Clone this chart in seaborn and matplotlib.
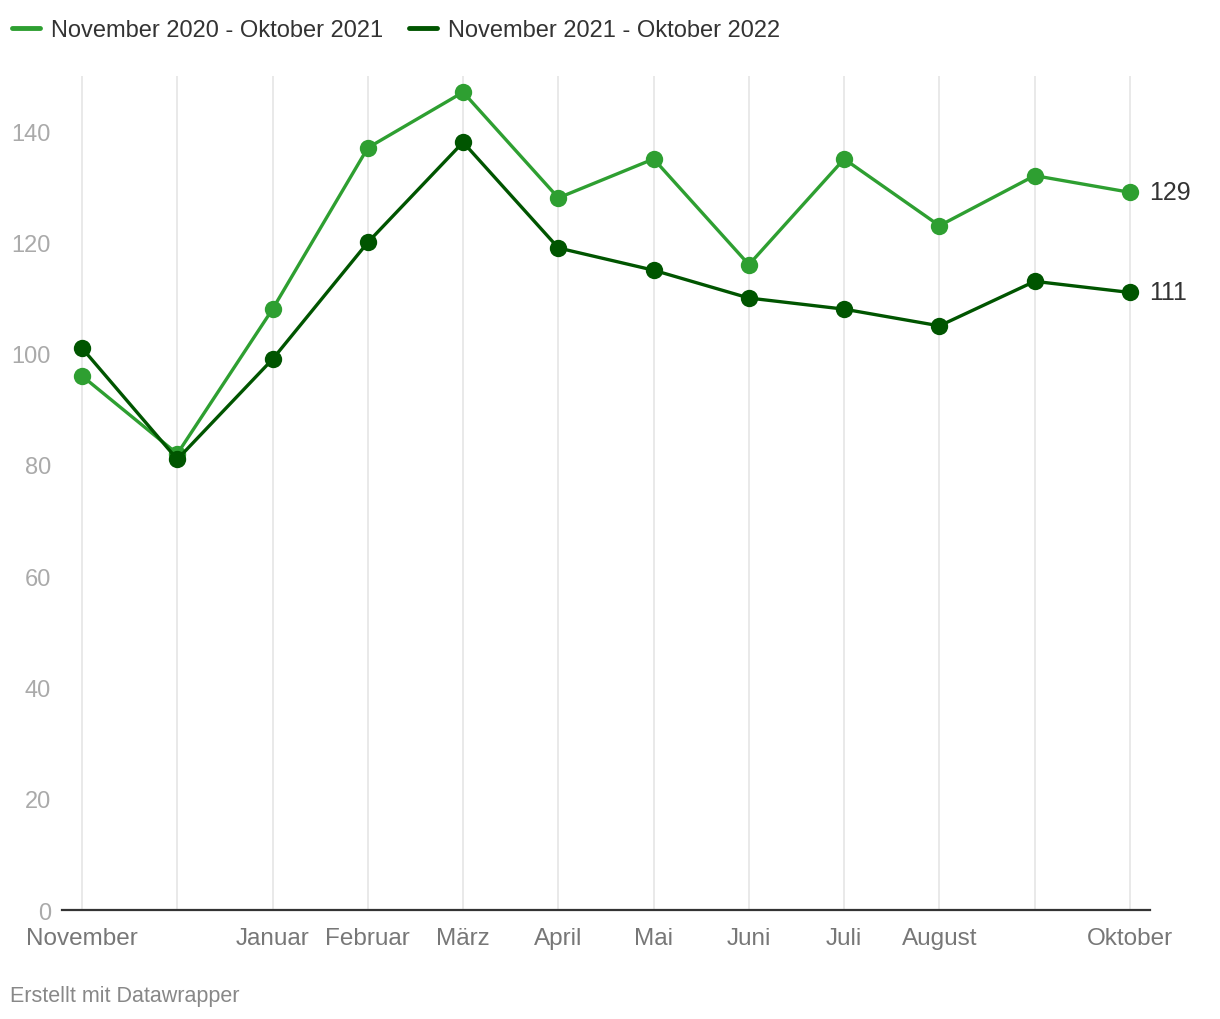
import matplotlib
matplotlib.use("Agg")
import matplotlib.pyplot as plt
import seaborn as sns
import pandas as pd
from matplotlib.lines import Line2D

months = ["November", "Dezember", "Januar", "Februar", "März", "April", "Mai",
          "Juni", "Juli", "August", "September", "Oktober"]
tick_labels = ["November", "", "Januar", "Februar", "März", "April", "Mai",
               "Juni", "Juli", "August", "", "Oktober"]
series_names = ["November 2020 - Oktober 2021", "November 2021 - Oktober 2022"]
values_2021 = [96, 82, 108, 137, 147, 128, 135, 116, 135, 123, 132, 129]
values_2022 = [101, 81, 99, 120, 138, 119, 115, 110, 108, 105, 113, 111]
colors = ["#2e9f31", "#005500"]
y_ticks = [0, 20, 40, 60, 80, 100, 120, 140]

rows = []
for name, vals in zip(series_names, [values_2021, values_2022]):
    for i, (m, v) in enumerate(zip(months, vals)):
        rows.append({"idx": i, "month": m, "value": v, "series": name})
df = pd.DataFrame(rows)

sns.set_theme(style="white")
plt.rcParams["font.family"] = ["Liberation Sans", "DejaVu Sans"]

fig = plt.figure(figsize=(12.2, 10.2), dpi=100)
ax = fig.add_axes([62 / 1220, 1 - 911 / 1020, (1150 - 62) / 1220, (911 - 76.5) / 1020])

sns.lineplot(data=df, x="idx", y="value", hue="series", hue_order=series_names,
             palette=colors, marker="o", markersize=12.5, markeredgewidth=0,
             linewidth=2.4, ax=ax, legend=False, zorder=3)

ax.set_xlim(-0.21, 11.21)
ax.set_ylim(0, 150)
ax.set_xticks(range(len(months)))
ax.set_xticklabels(tick_labels, fontsize=17.5, color="#777777")
ax.set_yticks(y_ticks)
ax.set_yticklabels([str(t) for t in y_ticks], fontsize=17, color="#aaaaaa")
ax.tick_params(axis="x", length=0, pad=12)
ax.tick_params(axis="y", length=0, pad=8)
ax.set_xlabel("")
ax.set_ylabel("")
for s in ["top", "right", "left"]:
    ax.spines[s].set_visible(False)
ax.spines["bottom"].set_color("#333333")
ax.spines["bottom"].set_linewidth(1.6)
ax.spines["bottom"].set_zorder(4)
ax.grid(axis="x", color="#e3e3e3", linewidth=1.1, zorder=0)
ax.grid(axis="y", visible=False)

# end labels
ax.text(11 + 0.2, values_2021[-1], str(values_2021[-1]), fontsize=18, color="#333333",
        va="center", ha="left")
ax.text(11 + 0.2, values_2022[-1], str(values_2022[-1]), fontsize=18, color="#333333",
        va="center", ha="left")

handles = [Line2D([0], [0], color=c, linewidth=3.5) for c in colors]
fig.legend(handles, series_names, loc="upper left", bbox_to_anchor=(12 / 1220, 1 - 20 / 1020),
           frameon=False, ncol=2, fontsize=17, handlelength=1.2, handletextpad=0.45,
           columnspacing=1.1, borderpad=0, borderaxespad=0, labelcolor="#333333")

fig.text(10 / 1220, 1 - 997 / 1020, "Erstellt mit Datawrapper", fontsize=15.5,
         color="#888888", ha="left", va="center")

fig.savefig("out.png", dpi=100)
